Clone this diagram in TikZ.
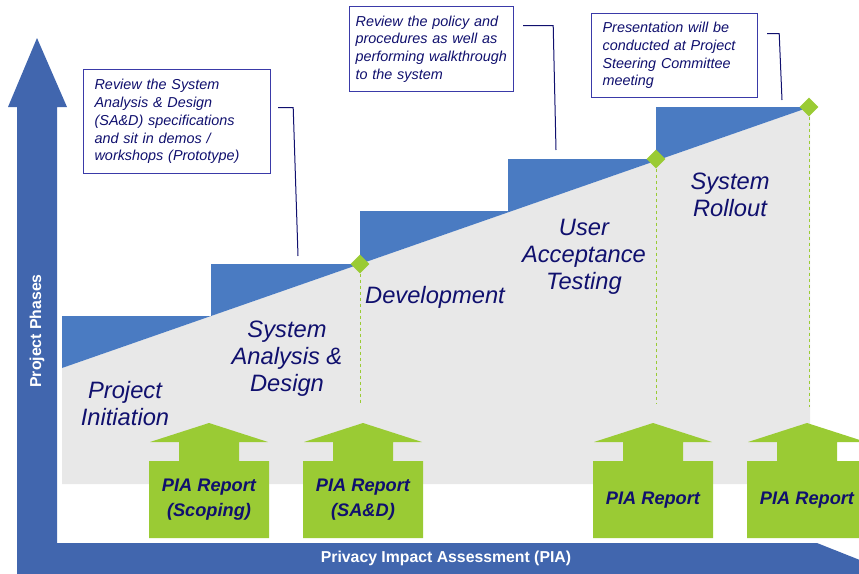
\documentclass[tikz,border=0pt]{standalone}
\usepackage{fontspec}
\setmainfont{Liberation Sans}
\usetikzlibrary{shapes.geometric}
\definecolor{axisblue}{HTML}{4166AE}
\definecolor{stepblue}{HTML}{4A7BC2}
\definecolor{phasegray}{HTML}{E8E8E8}
\definecolor{piagreen}{HTML}{9ACB34}
\definecolor{navy}{HTML}{10106E}
\definecolor{boxblue}{HTML}{3A3AA8}
\begin{document}
\begin{tikzpicture}[x=1pt,y=-1pt]
      \tikzstyle{phase} = [text=navy, font=\fontsize{23.7}{27}\selectfont\itshape, align=center]
      \tikzstyle{note} = [draw=boxblue, line width=1.2pt, fill=white, text=navy, anchor=north west,
                          font=\fontsize{14.4}{17.7}\selectfont\itshape, align=left]
      \tikzstyle{leader} = [draw=navy, line width=1pt]
      \tikzstyle{milestone} = [diamond, fill=piagreen, minimum size=19pt, inner sep=0pt]
      \tikzstyle{guide} = [piagreen, dashed, line width=0.8pt]
      \tikzstyle{report} = [text=navy, font=\fontsize{18.2}{25}\selectfont\bfseries\itshape, align=center]
      \tikzstyle{axislabel} = [text=white, font=\fontsize{15.8}{18}\selectfont\bfseries]
        \useasboundingbox (0,0) rectangle (859,573);
        \clip (0,0) rectangle (859,573);
          \fill[phasegray] (62,368) -- (810,107) -- (810,484) -- (62,484) -- cycle;
          \fill[stepblue] (62,368) -- (62,316) -- (211,316) -- (211,264) -- (360,264) -- (360,211)
            -- (508,211) -- (508,159) -- (656,159) -- (656,107) -- (810,107) -- cycle;
          \node[milestone] (m1) at (360,264) {};
          \node[milestone] (m2) at (656,159) {};
          \node[milestone] (m3) at (809,107) {};
          \draw[guide] (m1.south) -- ++(0,131);
          \draw[guide] (m2.south) -- ++(0,235);
          \draw[guide] (m3.south) -- ++(0,290);
          \node[phase] (init) at (125,404) {Project\\Initiation};
          \node[phase] (sad) at (287,359) {System\\Analysis \&\\Design};
          \node[phase] (dev) at (435,297) {Development};
          \node[phase] (uat) at (584,257) {User\\Acceptance\\Testing};
          \node[phase] (rollout) at (730,195) {System\\Rollout};
          \foreach \cx/\name/\txt in {209/rep1/{PIA Report\\(Scoping)}, 363/rep2/{PIA Report\\(SA\&D)},
                                      653/rep3/{PIA Report}, 807/rep4/{PIA Report}}{
            \fill[piagreen] (\cx-60,538) -- (\cx-60,461) -- (\cx-30,461) -- (\cx-30,442) -- (\cx-59,442)
              -- (\cx,423) -- (\cx+59,442) -- (\cx+30,442) -- (\cx+30,461) -- (\cx+60,461) -- (\cx+60,538) -- cycle;
            \node[report] (\name) at (\cx,500) {\txt};
          }
          \fill[axisblue] (17,590) -- (17,107) -- (8,107) -- (37,38) -- (67,107) -- (57,107) -- (57,543)
            -- (817,543) -- (880,568) -- (880,590) -- cycle;
          \node[axislabel, rotate=90] (phases) at (37,331) {Project Phases};
          \node[axislabel] (pia) at (446,558) {Privacy Impact Assessment (PIA)};
          \node[note, inner xsep=11pt, text width=165pt, minimum height=104pt] (note1) at (83,69)
            {Review the System\\Analysis \& Design\\(SA\&D) specifications\\and sit in demos /\\workshops (Prototype)};
          \node[note, inner xsep=6pt, text width=152pt, minimum height=85pt] (note2) at (349,6)
            {Review the policy and\\procedures as well as\\performing walkthrough\\to the system};
          \node[note, inner xsep=11pt, text width=144pt, minimum height=84pt] (note3) at (591,13)
            {Presentation will be\\conducted at Project\\Steering Committee\\meeting};
          \coordinate (lead1) at (298,256);
          \coordinate (lead2) at (556,150);
          \coordinate (lead3) at (782,100);
          \draw[leader] (note1.east) ++(7,-14) -- ++(15,0) -- (lead1);
          \draw[leader] (note2.east) ++(9,-23.5) -- ++(30,0) -- (lead2);
          \draw[leader] (note3.east) ++(9,-22) -- ++(12,0) -- (lead3);
        \end{tikzpicture}
\end{document}
